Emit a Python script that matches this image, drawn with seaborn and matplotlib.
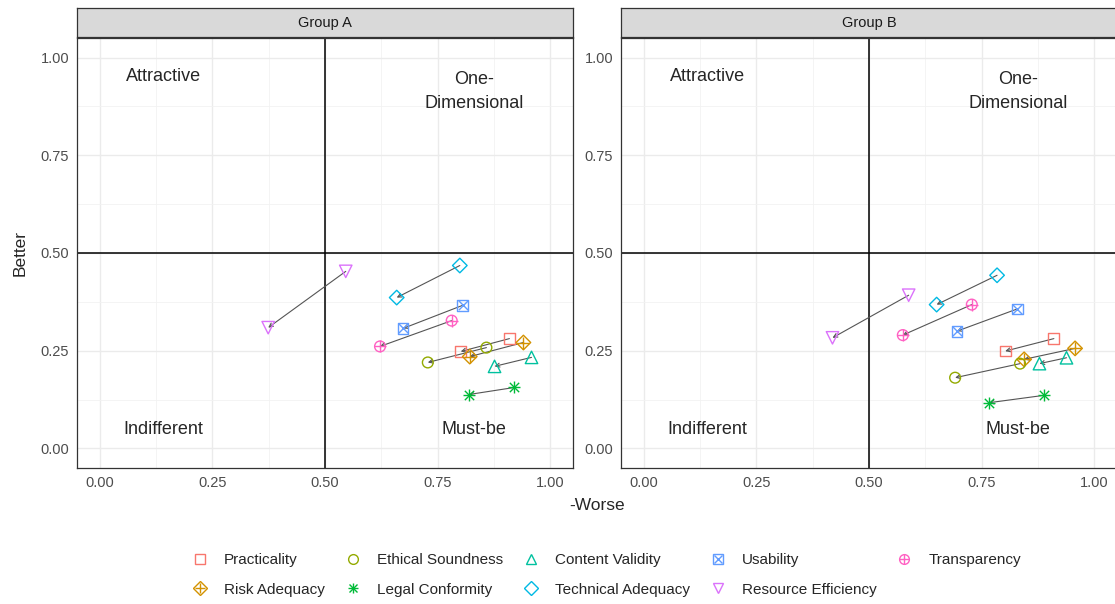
import numpy as np
import pandas as pd
import matplotlib
matplotlib.use("Agg")
import matplotlib.pyplot as plt
from matplotlib.lines import Line2D
from matplotlib.legend_handler import HandlerTuple
import seaborn as sns

# --- data ---
features = ["Practicality", "Risk Adequacy", "Ethical Soundness", "Legal Conformity",
            "Content Validity", "Technical Adequacy", "Usability",
            "Resource Efficiency", "Transparency"]
colors = ["#F8766D", "#D39200", "#93AA00", "#00BA38", "#00C19F",
          "#00B9E3", "#619CFF", "#DB72FB", "#FF61C3"]
groups = ["Group A", "Group B"]

a_start_worse = [0.909, 0.940, 0.858, 0.920, 0.958, 0.799, 0.805, 0.546, 0.781]
a_start_better = [0.281, 0.271, 0.258, 0.156, 0.233, 0.468, 0.366, 0.453, 0.327]
a_end_worse = [0.801, 0.821, 0.728, 0.819, 0.876, 0.659, 0.673, 0.374, 0.622]
a_end_better = [0.248, 0.235, 0.220, 0.138, 0.210, 0.386, 0.307, 0.309, 0.261]

b_start_worse = [0.910, 0.957, 0.835, 0.889, 0.938, 0.784, 0.829, 0.588, 0.728]
b_start_better = [0.281, 0.256, 0.217, 0.136, 0.232, 0.443, 0.357, 0.392, 0.368]
b_end_worse = [0.802, 0.844, 0.691, 0.766, 0.878, 0.650, 0.695, 0.419, 0.575]
b_end_better = [0.249, 0.228, 0.181, 0.117, 0.217, 0.368, 0.300, 0.283, 0.290]

quadrants = ["Attractive", "One-\nDimensional", "Indifferent", "Must-be"]

# ggplot-like shapes built from overlaid matplotlib markers
shapes = {
    "Practicality": ["s"],
    "Risk Adequacy": ["D", "+"],
    "Ethical Soundness": ["o"],
    "Legal Conformity": ["+", "x"],
    "Content Validity": ["^"],
    "Technical Adequacy": ["D"],
    "Usability": ["s", "x"],
    "Resource Efficiency": ["v"],
    "Transparency": ["o", "+"],
}
sizes = {"s": 60, "D": 55, "o": 60, "^": 80, "v": 80, "+": 70, "x": 45}


def make_df(group, sw, sb, ew, eb):
    rows = []
    for i, f in enumerate(features):
        rows.append((group, f, sw[i], sb[i], ew[i], eb[i]))
    return pd.DataFrame(rows, columns=["group", "feature", "sw", "sb", "ew", "eb"])


df = pd.concat([
    make_df("Group A", a_start_worse, a_start_better, a_end_worse, a_end_better),
    make_df("Group B", b_start_worse, b_start_better, b_end_worse, b_end_better),
])

sns.set_style("whitegrid", {"grid.color": "#EBEBEB", "axes.edgecolor": "#333333"})
plt.rcParams["font.family"] = ["Liberation Sans", "DejaVu Sans"]

fig = plt.figure(figsize=(11.15, 6.04), dpi=100)
W, H = 1115, 604
panel_left = [77, 621]
pw = 496
top, bottom = 38, 468

for gi, group in enumerate(groups):
    ax = fig.add_axes([panel_left[gi] / W, 1 - bottom / H, pw / W, (bottom - top) / H])
    sub = df[df["group"] == group]

    ax.set_xlim(-0.05, 1.05)
    ax.set_ylim(-0.05, 1.05)
    ticks = [0, 0.25, 0.5, 0.75, 1.0]
    ax.set_xticks(ticks)
    ax.set_yticks(ticks)
    ax.set_xticklabels([f"{t:.2f}" for t in ticks])
    ax.set_yticklabels([f"{t:.2f}" for t in ticks])
    ax.set_xticks(np.arange(0.125, 1.0, 0.25), minor=True)
    ax.set_yticks(np.arange(0.125, 1.0, 0.25), minor=True)
    ax.grid(which="major", color="#EBEBEB", lw=1.0)
    ax.grid(which="minor", color="#F2F2F2", lw=0.6)
    ax.tick_params(which="major", length=3.5, width=0.8, color="#333333",
                   labelcolor="#4D4D4D", labelsize=10.5, pad=2)
    ax.tick_params(which="minor", length=0)
    for sp in ax.spines.values():
        sp.set_color("#333333")
        sp.set_linewidth(0.9)

    ax.axhline(0.5, color="black", lw=1.1, zorder=1)
    ax.axvline(0.5, color="black", lw=1.1, zorder=1)

    ax.text(0.142, 0.951, quadrants[0], ha="center", va="center", fontsize=13)
    ax.text(0.83, 0.913, quadrants[1], ha="center", va="center", fontsize=13,
            linespacing=1.6)
    ax.text(0.142, 0.049, quadrants[2], ha="center", va="center", fontsize=13)
    ax.text(0.83, 0.049, quadrants[3], ha="center", va="center", fontsize=13)

    for _, r in sub.iterrows():
        ax.annotate("", xy=(r["ew"], r["eb"]), xytext=(r["sw"], r["sb"]),
                    arrowprops=dict(arrowstyle="->", color="#555555", lw=0.8,
                                    shrinkA=0, shrinkB=0, mutation_scale=7),
                    zorder=2)

    for fi, f in enumerate(features):
        pts = sub[sub["feature"] == f]
        xs = list(pts["sw"]) + list(pts["ew"])
        ys = list(pts["sb"]) + list(pts["eb"])
        col = colors[fi]
        for m in shapes[f]:
            if m in ("+", "x"):
                sns.scatterplot(x=xs, y=ys, marker=m, color=col, s=sizes[m],
                                linewidth=1.0, ax=ax, zorder=3, legend=False)
            else:
                sns.scatterplot(x=xs, y=ys, marker=m, color=col, s=sizes[m],
                                facecolor="none", edgecolor=col, linewidth=1.0,
                                ax=ax, zorder=3, legend=False)
    ax.set_xlabel("")
    ax.set_ylabel("")

    # facet strip
    sax = fig.add_axes([panel_left[gi] / W, 1 - 37 / H, pw / W, 29 / H])
    sax.set_facecolor("#D9D9D9")
    sax.set_xticks([])
    sax.set_yticks([])
    sax.grid(False)
    for sp in sax.spines.values():
        sp.set_color("#333333")
        sp.set_linewidth(0.9)
    sax.text(0.5, 0.5, group, ha="center", va="center", fontsize=10.5,
             color="#1A1A1A", transform=sax.transAxes)

fig.text(597 / W, 1 - 505 / H, "-Worse", ha="center", va="center", fontsize=12.5)
fig.text(20 / W, 1 - 253 / H, "Better", ha="center", va="center", fontsize=12.5,
         rotation=90)

handles = []
for fi, f in enumerate(features):
    parts = [Line2D([], [], ls="none", marker=m, color=colors[fi],
                    markerfacecolor="none", markeredgecolor=colors[fi],
                    markersize=7 if m not in ("x",) else 5.5, mew=1.0)
             for m in shapes[f]]
    handles.append(tuple(parts))

fig.legend(handles, features, loc="center", bbox_to_anchor=(606 / W, 1 - 575 / H),
           ncol=5, frameon=False, fontsize=11, labelspacing=1.0,
           handler_map={tuple: HandlerTuple(ndivide=1)},
           handlelength=1.2, handletextpad=1.0, columnspacing=1.2)

fig.savefig("out.png", dpi=100)
